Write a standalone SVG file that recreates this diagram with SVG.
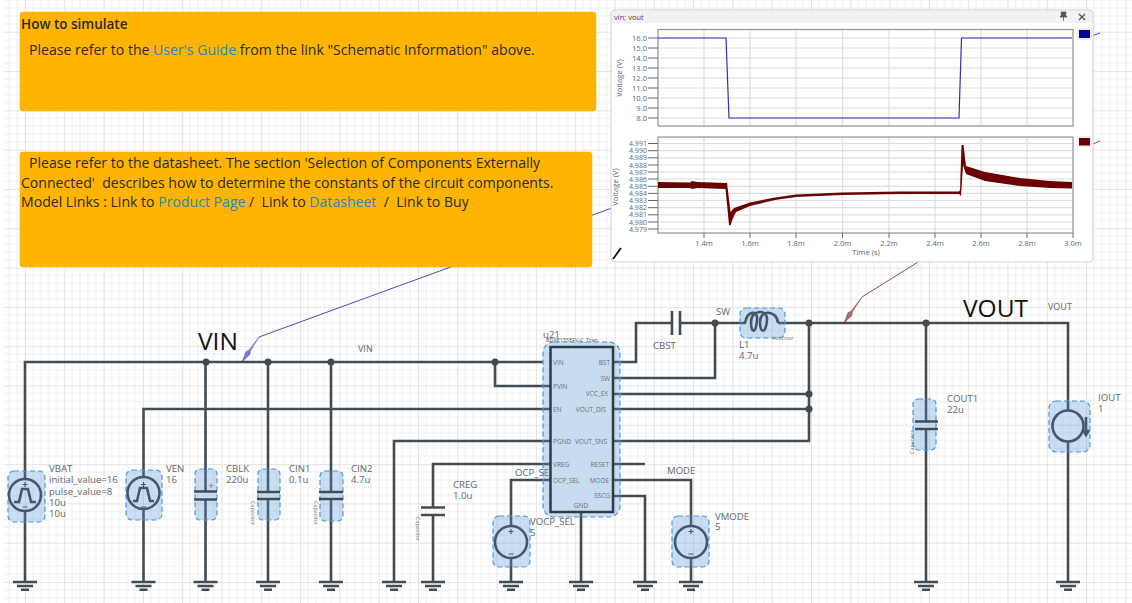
<svg xmlns="http://www.w3.org/2000/svg" width="1132" height="603" viewBox="0 0 1132 603">
<style>
text{font-family:"Open Sans","Liberation Sans",sans-serif;fill:#62676b;white-space:pre}
.w{fill:none;stroke:#434c53;stroke-width:2.6}
.s{fill:none;stroke:#44586a;stroke-width:2.6}
.h{fill:#4f96d8;fill-opacity:.3;stroke:#4f96d8;stroke-width:1.2;stroke-dasharray:5 3}
.l{font-size:9.6px}
.p{font-size:6.5px;fill:#6a7076}
.t{font-size:5.400px;fill:#777}
.n{font-size:14.08px;fill:#2a2a2a}
.b{fill:#ffb500;stroke:#f0ac00;stroke-width:.5}
.a{fill:#2a86b8}
.ax{font-size:7.600px;fill:#5f6870}
.ay{font-size:7.100px;fill:#5f6870}
.g{stroke:#dedede;stroke-width:1.200;fill:none}
.f{fill:none;stroke:#929292;stroke-width:1.200}
.tk{stroke:#666;stroke-width:1}
.big{font-size:24.500px;fill:#111}
</style>
<defs>
<pattern id="grid" patternUnits="userSpaceOnUse" x="25" y="582" width="39.3" height="39.3">
<path d="M7.86 0V39.3M15.72 0V39.3M23.58 0V39.3M31.44 0V39.3M0 7.86H39.3M0 15.72H39.3M0 23.58H39.3M0 31.44H39.3" stroke="#f0f0f0" stroke-width="1" fill="none"/>
<path d="M0 0V39.3M0 0H39.3" stroke="#dddddd" stroke-width="1.600" fill="none"/>
</pattern>
<g id="gnd"><path d="M-12 0H12M-8 4H8M-4 7.800H4" stroke="#434c53" stroke-width="2.400" fill="none"/></g>
</defs>
<rect x="4" width="1128" height="603" fill="#fff"/>
<rect x="4" width="1128" height="603" fill="url(#grid)"/>

<g id="probes">
<path d="M259 337L612 208M1093 35.500L1100 33" stroke="#4a4ac0" stroke-width="1" fill="none"/>
<path d="M242 362L246 351.600L248.900 350.300L259 337L250.300 351.100L250 354.400Z" fill="#7a7ad0" stroke="#6a6ac8" stroke-width=".6"/>
<path d="M862 297L918 262M1093 144L1100 141" stroke="#9a4a4a" stroke-width="1" fill="none"/>
<path d="M844 323L848 312.600L851 311.300L862 297L852.300 312.100L852 315.400Z" fill="#a86a6a" stroke="#a05a5a" stroke-width=".6"/>
</g>

<g id="connectors">
<path class="w" d="M25 479V362H543M25 511V582M143.500 477V409H550M143.500 509V582M205.500 491.500V362M205.500 499.500V582M268 492V362M268 499V582M331 492V362M331 499V582M495 362V386H550M394 582V441H550M433 507.500V464H550M433 515V582M511 526V480H550M511 558V582M581 512V582"/>
<path class="w" d="M613 362H636V323H672M680 323H746M778 323H1068V410M1068 442V582M613 378H715V323M613 394H809M613 409H809M613 441H809V323M613 464H645M613 480H691V526M691 558V582M613 496H645V582M926 323V421.500M926 429V582"/>
<g fill="#3f4a52"><circle cx="206" cy="362" r="3.500"/><circle cx="268" cy="362" r="3.500"/><circle cx="331" cy="362" r="3.500"/><circle cx="495" cy="362" r="3.500"/><circle cx="715" cy="323" r="3.500"/><circle cx="809" cy="323" r="3.500"/><circle cx="926" cy="323" r="3.500"/><circle cx="809" cy="394" r="3.500"/><circle cx="809" cy="409" r="3.500"/></g>
<g><use href="#gnd" x="25" y="582"/><use href="#gnd" x="143.500" y="582"/><use href="#gnd" x="205.500" y="582"/><use href="#gnd" x="268" y="582"/><use href="#gnd" x="331" y="582"/><use href="#gnd" x="394" y="582"/><use href="#gnd" x="433" y="582"/><use href="#gnd" x="511" y="582"/><use href="#gnd" x="581" y="582"/><use href="#gnd" x="645" y="582"/><use href="#gnd" x="691" y="582"/><use href="#gnd" x="926" y="582"/><use href="#gnd" x="1068" y="582"/></g>
</g>

<g id="VBAT"><rect class="h" x="8" y="471" width="37" height="51" rx="6"/><circle class="s" cx="25" cy="495" r="16"/><path class="s" stroke-width="1.800" d="M14 502H19L22 489H28L31 502H36"/><path d="M22.500 484.500h5M25 482v5M22.500 507h5" stroke="#44586a" stroke-width="1.200"/>
<text class="l" x="49" y="472">VBAT</text><text class="l" x="49" y="483">initial_value=16</text><text class="l" x="49" y="494.500">pulse_value=8</text><text class="l" x="49" y="505.500">10u</text><text class="l" x="49" y="517">10u</text></g>
<g id="VEN"><rect class="h" x="126" y="470" width="36" height="50" rx="6"/><circle class="s" cx="143.500" cy="493" r="16"/><path class="s" stroke-width="1.800" d="M133 501H137L140 488H147L150 501H154"/><path d="M141 484.500h5M143.500 482v5M141 507h5" stroke="#44586a" stroke-width="1.200"/>
<text class="l" x="166" y="472">VEN</text><text class="l" x="166" y="483">16</text></g>
<g id="CBLK"><rect class="h" x="195" y="469" width="22" height="51" rx="5"/><path class="w" d="M194 491.500H217M194 499.500H217"/><text x="211" y="489" font-size="9" text-anchor="middle">+</text>
<text class="l" x="226" y="472">CBLK</text><text class="l" x="226" y="483">220u</text></g>
<g id="CIN1"><rect class="h" x="258" y="469" width="22" height="51" rx="5"/><path class="w" d="M257 492H280M257 499H280"/><text class="t" transform="translate(251 513) rotate(90)" text-anchor="middle">Capacitor</text>
<text class="l" x="289" y="472">CIN1</text><text class="l" x="289" y="483">0.1u</text></g>
<g id="CIN2"><rect class="h" x="320" y="471" width="23" height="50" rx="5"/><path class="w" d="M319 492H343M319 499H343"/><text class="t" transform="translate(314 513) rotate(90)" text-anchor="middle">Capacitor</text>
<text class="l" x="351" y="472">CIN2</text><text class="l" x="351" y="483">4.7u</text></g>
<g id="CREG"><path class="w" d="M421 507.500H445M421 515H445"/><text class="t" transform="translate(416 529) rotate(90)" text-anchor="middle">Capacitor</text>
<text class="l" x="453" y="488">CREG</text><text class="l" x="453" y="499">1.0u</text></g>
<text class="l" x="515" y="476">OCP_SE</text>
<g id="VOCP_SEL"><rect class="h" x="493" y="516" width="37" height="51" rx="6"/><circle class="s" cx="511" cy="542" r="16"/><path d="M508.500 531.500h5M511 529v5M508.500 554h5" stroke="#44586a" stroke-width="1.200"/>
<text class="l" x="530" y="525">VOCP_SEL</text><text class="l" x="530" y="536">5</text></g>
<g id="VMODE"><rect class="h" x="672" y="516" width="37" height="51" rx="6"/><circle class="s" cx="691" cy="542" r="16"/><path d="M688.500 531.500h5M691 529v5M688.500 554h5" stroke="#44586a" stroke-width="1.200"/>
<text class="l" x="715" y="520">VMODE</text><text class="l" x="715" y="530">5</text></g>
<g id="u21"><rect class="h" x="543" y="342" width="77" height="175" rx="11"/><rect x="550.500" y="347" width="62.500" height="165" fill="#c8dcf0" stroke="#2f3b44" stroke-width="2.500"/>
<text class="l" x="543" y="338">u21</text><text class="t" x="546" y="342" style="font-size:5.500px;fill:#555">BD9E155EFV-C_Tran</text>
<text class="p" x="553" y="365">VIN</text><text class="p" x="553" y="389">PVIN</text><text class="p" x="553" y="412">EN</text><text class="p" x="553" y="444">PGND</text><text class="p" x="553" y="467">VREG</text><text class="p" x="553" y="483">OCP_SEL</text>
<g text-anchor="end"><text class="p" x="610" y="365">BST</text><text class="p" x="610" y="381">SW</text><text class="p" x="608" y="396">VCC_EX</text><text class="p" x="606" y="412">VOUT_DIS</text><text class="p" x="607" y="444">VOUT_SNS</text><text class="p" x="609" y="467">RESET</text><text class="p" x="609" y="483">MODE</text><text class="p" x="610" y="498">SSCG</text></g>
<text class="p" x="581" y="508" text-anchor="middle">GND</text></g>
<g id="CBST"><path class="w" d="M672 311V335M680 311V335"/><text class="l" x="653" y="349">CBST</text></g>
<g id="L1"><rect class="h" x="740" y="308" width="45" height="30" rx="6"/><path class="s" stroke-width="2.200" d="M745 323C747 311 758 309 757 320C756 334 751 334 751 322C751 309 768 309 767 320C766 334 760 334 760 322C760 309 777 310 778 323"/>
<text class="t" x="772" y="340">Inductor</text><text class="l" x="739" y="348">L1</text><text class="l" x="739" y="359">4.7u</text></g>
<g id="COUT1"><rect class="h" x="913" y="399" width="23" height="51" rx="5"/><path class="w" d="M915 421.500H938M915 429H938"/><text class="t" transform="translate(914 442) rotate(-90)" text-anchor="middle">Capacitor</text>
<text class="l" x="947" y="402">COUT1</text><text class="l" x="947" y="413">22u</text></g>
<g id="IOUT"><rect class="h" x="1049" y="401" width="41" height="51" rx="7"/><circle class="s" cx="1068" cy="426" r="15.500"/><path class="s" stroke-width="1.800" d="M1086 417V434M1083 430L1086 435L1089 430"/>
<text class="l" x="1098" y="401">IOUT</text><text class="l" x="1098" y="412">1</text></g>

<g id="labels"><text class="big" x="198" y="350">VIN</text><text class="big" x="963" y="317">VOUT</text>
<text class="l" x="358" y="352" style="font-size:9px">VIN</text><text class="l" x="1048" y="310" style="font-size:9px">VOUT</text><text class="l" x="716" y="315">SW</text><text class="l" x="667" y="474">MODE</text></g>

<g id="note1"><rect class="b" x="20" y="12" width="576" height="99" rx="3"/>
<text class="n" x="21" y="29" style="font-weight:600;font-size:13.500px">How to simulate</text>
<text class="n" x="29" y="55">Please refer to the <tspan class="a">User's Guide</tspan> from the link "Schematic Information" above.</text></g>
<g id="note2"><rect class="b" x="20" y="152" width="572" height="115" rx="3"/>
<text class="n" x="29" y="168">Please refer to the datasheet. The section 'Selection of Components Externally</text>
<text class="n" x="21" y="188">Connected'  describes how to determine the constants of the circuit components.</text>
<text class="n" x="21" y="207">Model Links : Link to <tspan class="a">Product Page</tspan> /  Link to <tspan class="a">Datasheet</tspan>  /  Link to Buy</text></g>

<g id="chart">
<rect x="611" y="10" width="482" height="252" rx="4" fill="#fff" stroke="#cfcfcf"/>
<path d="M612 23V14a3 3 0 0 1 3-3H1089a3 3 0 0 1 3 3V23Z" fill="#f2f2f2"/>
<text x="614" y="20" style="font-size:7.500px"><tspan fill="#3a3aa0">vin</tspan>; <tspan fill="#7a2a2a">vout</tspan></text>
<path d="M1061 12H1066L1065.500 15L1067 17H1060L1061.500 15ZM1063.500 17V21" fill="#555" stroke="#555" stroke-width=".8"/>
<path d="M1079 14L1085 20M1085 14L1079 20" stroke="#555" stroke-width="1.300"/>
<path class="g" d="M704 29V126M750 29V126M796 29V126M842.500 29V126M889 29V126M935 29V126M981 29V126M1027 29V126"/>
<path class="g" d="M658 38H1073M658 48H1073M658 58H1073M658 68H1073M658 78H1073M658 88H1073M658 98H1073M658 108H1073M658 118H1073"/>
<rect class="f" x="658" y="29.500" width="415" height="96.500"/>
<path class="tk" d="M648 38H658M648 48H658M648 58H658M648 68H658M648 78H658M648 88H658M648 98H658M648 108H658M648 118H658"/>
<g text-anchor="end"><text class="ax" x="647" y="40.500">16.0</text><text class="ax" x="647" y="50.500">15.0</text><text class="ax" x="647" y="60.500">14.0</text><text class="ax" x="647" y="70.500">13.0</text><text class="ax" x="647" y="80.500">12.0</text><text class="ax" x="647" y="90.500">11.0</text><text class="ax" x="647" y="100.500">10.0</text><text class="ax" x="647" y="110.500">9.0</text><text class="ax" x="647" y="120.500">8.0</text></g>
<text class="ax" transform="translate(622 78) rotate(-90)" text-anchor="middle">Voltage (V)</text>
<path d="M658 38H726L729 118H959L961.500 38H1072" fill="none" stroke="#3030b0" stroke-width="1.200"/>
<rect x="1077" y="28" width="16" height="12" fill="#eee"/><rect x="1079" y="30" width="11" height="8" fill="#0000a0"/>

<path class="g" d="M704 137V233M750 137V233M796 137V233M842.500 137V233M889 137V233M935 137V233M981 137V233M1027 137V233"/>
<path class="g" d="M658 143.500H1073M658 150.700H1073M658 157.800H1073M658 165H1073M658 172H1073M658 179H1073M658 186.300H1073M658 193.400H1073M658 200.500H1073M658 207.700H1073M658 214.800H1073M658 222H1073M658 229H1073"/>
<rect class="f" x="658" y="137" width="415" height="96"/>
<path class="tk" d="M648 143.500H658M648 150.700H658M648 157.800H658M648 165H658M648 172H658M648 179H658M648 186.300H658M648 193.400H658M648 200.500H658M648 207.700H658M648 214.800H658M648 222H658M648 229H658"/>
<path class="tk" d="M704 233V238M750 233V238M796 233V238M842.500 233V238M889 233V238M935 233V238M981 233V238M1027 233V238M1073 233V238"/>
<g text-anchor="end"><text class="ay" x="647" y="146">4.991</text><text class="ay" x="647" y="153">4.990</text><text class="ay" x="647" y="160">4.989</text><text class="ay" x="647" y="167.500">4.988</text><text class="ay" x="647" y="174.500">4.987</text><text class="ay" x="647" y="181.500">4.986</text><text class="ay" x="647" y="188.700">4.985</text><text class="ay" x="647" y="196">4.984</text><text class="ay" x="647" y="203">4.983</text><text class="ay" x="647" y="210">4.982</text><text class="ay" x="647" y="217.300">4.981</text><text class="ay" x="647" y="224.500">4.980</text><text class="ay" x="647" y="231.500">4.979</text></g>
<text class="ax" transform="translate(618 187) rotate(-90)" text-anchor="middle">Voltage (V)</text>
<g text-anchor="middle"><text class="ax" x="704" y="246">1.4m</text><text class="ax" x="750" y="246">1.6m</text><text class="ax" x="796" y="246">1.8m</text><text class="ax" x="842.500" y="246">2.0m</text><text class="ax" x="889" y="246">2.2m</text><text class="ax" x="935" y="246">2.4m</text><text class="ax" x="981" y="246">2.6m</text><text class="ax" x="1027" y="246">2.8m</text><text class="ax" x="1073" y="246">3.0m</text><text class="ax" x="866" y="255">Time (s)</text></g>
<path d="M658 182L690 182.500L692 181L697 182L726 183L727 182.500L730.500 212L734 208L750 202.500L775 197.500L796 194.500L842 192.500L900 191.500L959 191.500L960 190L961.500 145L963.500 145L966 166L985 172L1020 178L1050 181L1072 182V188.500L1050 188L1020 186L985 181L966 174L963 165L961 196L959 194L900 194L842 195L796 197L775 200L750 206L736 212L733 218L730.500 225.500L729 225L725.500 189L697 188L692 189L690 188L658 188Z" fill="#6b0000"/>
<rect x="1077" y="136" width="16" height="11" fill="#eee"/><rect x="1079" y="138" width="11" height="7.500" fill="#6b0000"/>
<path d="M613 259L621 248" stroke="#111" stroke-width="1.800"/>
</g>
</svg>
